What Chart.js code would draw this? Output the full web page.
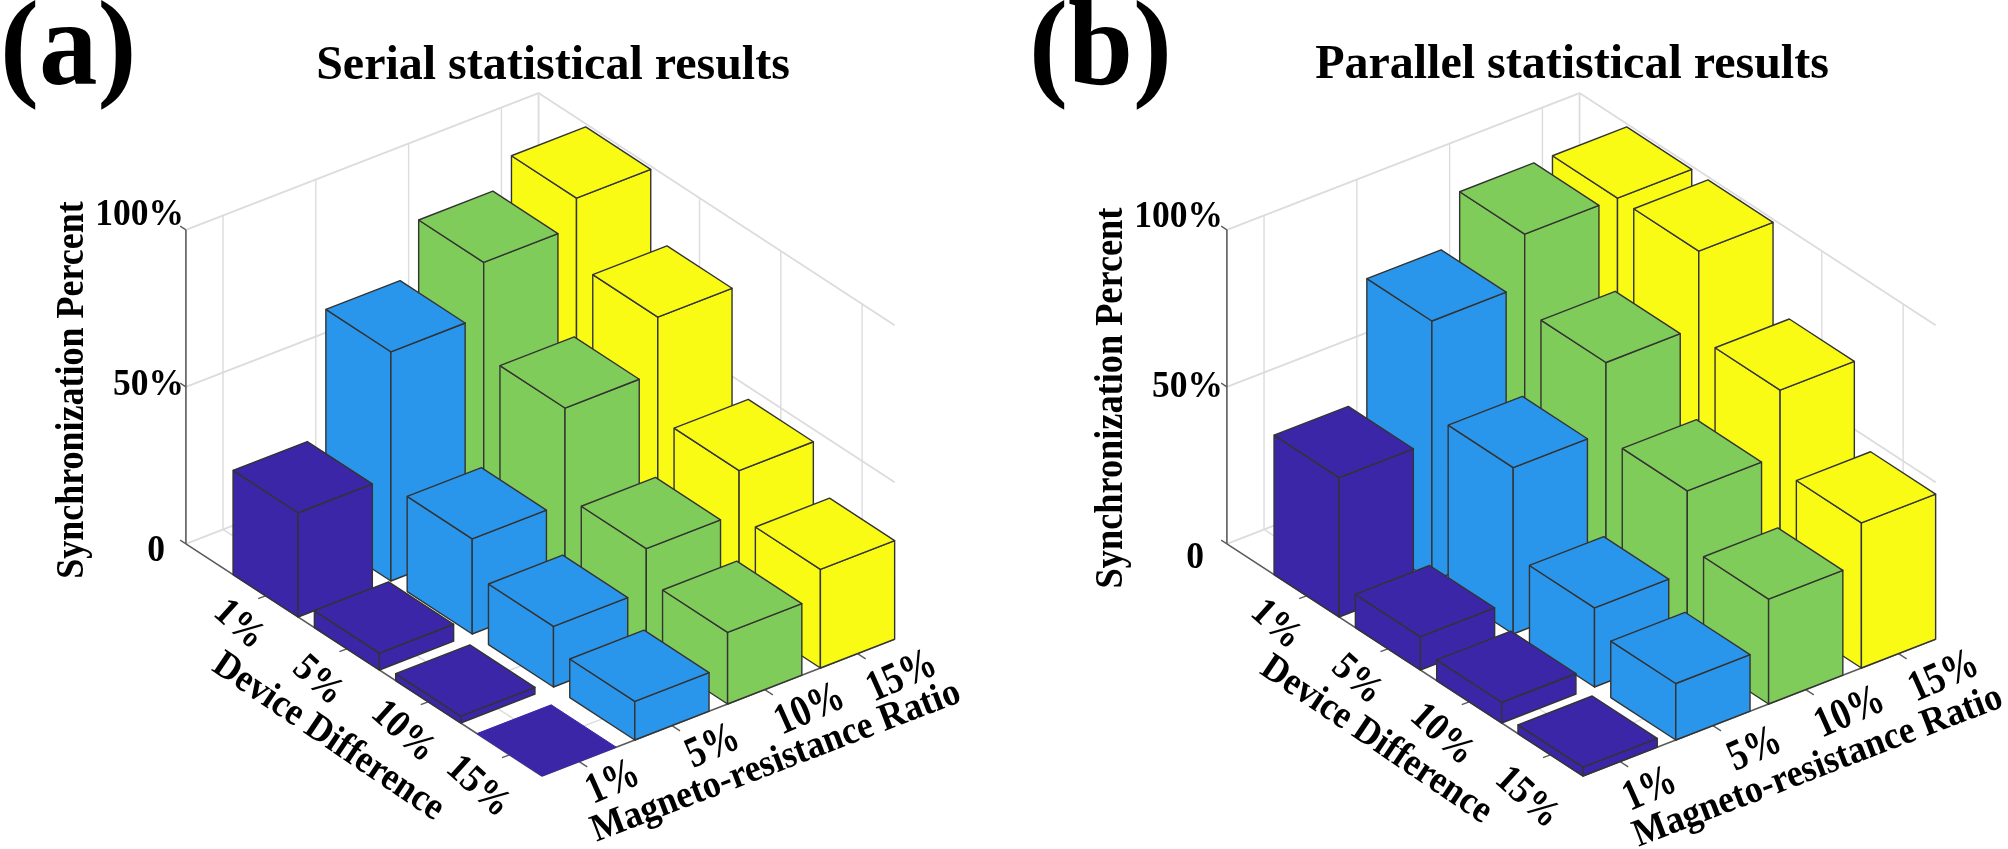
<!DOCTYPE html>
<html><head><meta charset="utf-8">
<style>html,body{margin:0;padding:0;background:#fff;overflow:hidden}
#w{position:relative;width:2008px;height:849px}
canvas{position:absolute;top:0}</style>
<script src="https://cdn.jsdelivr.net/npm/chart.js@4"></script></head>
<body><div id="w"><div style="position:absolute;left:0;top:0;width:1004px;height:849px"><canvas id="a"></canvas></div>
<div style="position:absolute;left:1004px;top:0;width:1004px;height:849px"><canvas id="b"></canvas></div></div>
<script>
// Tick labels
const deviceDifference = ['1%','5%','10%','15%'];
const magnetoRatio = ['1%','5%','10%','15%'];
const percentTicks = [0,50,100];
const percentLabels = ['0','50%','100%'];
// Values: one list per magneto-resistance ratio, in device-difference order (percent)
const serialMR1  = [33.2, 5.4, 2.2, 0];
const serialMR5  = [73, 30.3, 19.3, 12.3];
const serialMR10 = [90, 60.5, 32.6, 22.8];
const serialMR15 = [99, 78, 46, 31.4];
const parallelMR1  = [44.4, 10.6, 6.6, 2.8];
const parallelMR5  = [82.8, 53, 25.2, 18];
const parallelMR10 = [99, 75, 51, 33.4];
const parallelMR15 = [99, 99, 71.6, 46.2];
const seriesColors = ['#3c26a8','#2a96eb','#80cc5a','#f9fb15'];

const FONT='"Liberation Serif"';
// Oblique view: how the three data axes map to the flat x/y scales of the chart
const view={ox:542,oy:776,dx:81.3,dy:53,mx:92.8,my:-36,zy:3.14,barHalf:0.4,dMin:-0.98,dMax:3.4,mMin:-0.4,mMax:3.4};
function P(d,m,z){return {x:view.ox+(d-3.4)*view.dx+(m+0.4)*view.mx,y:view.oy+(d-3.4)*view.dy+(m+0.4)*view.my-z*view.zy};}

function poly(pts,stroke,fill,w){
  const closed=fill?[...pts,pts[0]]:pts;
  return {type:'line',data:closed,parsing:false,borderColor:stroke,borderWidth:w,backgroundColor:fill||'transparent',
    fill:fill?'shape':false,pointRadius:0,tension:0,animation:false,borderJoinStyle:'round',normalized:false};
}
function buildDatasets(rows){
  const ds=[]; const GRID='#dcdcdc',AX='#5a5a5a';
  const {dMin:a,dMax:b,mMin:c,mMax:e}=view;
  percentTicks.forEach(z=>{
    ds.push(poly([P(a,c,z),P(a,e,z),P(b,e,z)],GRID,null,1.8));
  });
  ds.push(poly([P(a,e,0),P(a,e,100)],GRID,null,1.8));
  magnetoRatio.forEach((_,m)=>{
    ds.push(poly([P(a,m,0),P(a,m,100)],GRID,null,1.4));
    ds.push(poly([P(a,m,0),P(b,m,0)],GRID,null,1.4));
  });
  deviceDifference.forEach((_,d)=>{
    ds.push(poly([P(d,e,0),P(d,e,100)],GRID,null,1.4));
    ds.push(poly([P(d,c,0),P(d,e,0)],GRID,null,1.4));
  });
  // axes and ticks
  ds.push(poly([P(a,c,0),P(a,c,100)],AX,null,1.6));
  ds.push(poly([P(a,c,0),P(b,c,0)],AX,null,1.6));
  ds.push(poly([P(b,c,0),P(b,e,0)],AX,null,1.6));
  percentTicks.forEach(z=>ds.push(poly([P(a,c,z),P(a-0.07,c,z)],AX,null,1.3)));
  deviceDifference.forEach((_,d)=>ds.push(poly([P(d,c,0),P(d,c-0.08,0)],AX,null,1.3)));
  magnetoRatio.forEach((_,m)=>ds.push(poly([P(b,m,0),P(b+0.1,m,0)],AX,null,1.3)));
  // bars, back to front
  const h=view.barHalf, EDGE='#333333';
  for(let m=3;m>=0;m--){
    for(let d=0;d<4;d++){
      const v=rows[m][d], col=seriesColors[m];
      const d0=d-h,d1=d+h,m0=m-h,m1=m+h;
      if(v>0){
        ds.push(poly([P(d0,m0,0),P(d1,m0,0),P(d1,m0,v),P(d0,m0,v)],EDGE,col,1.4));
        ds.push(poly([P(d1,m0,0),P(d1,m1,0),P(d1,m1,v),P(d1,m0,v)],EDGE,col,1.4));
        ds.push(poly([P(d0,m0,v),P(d1,m0,v),P(d1,m1,v),P(d0,m1,v)],EDGE,col,1.4));
      }else{
        ds.push(poly([P(d0,m0,v),P(d1,m0,v),P(d1,m1,v),P(d0,m1,v)],col,col,1));
      }
    }
  }
  return ds.reverse(); // Chart.js paints the last dataset first
}
// Label placement per panel, in the chart's own scale units
const layoutA={letter:[0,84],title:[553,79],zTitle:[83,390,36],
  zLab:[[165,561],[184,395],[184,225]],
  dLab:[[239,625],[318,681],[403,732],[478,787]],mLab:[[613,783],[713,747],[810,710],[902,677]],
  dTitle:[328,737],mTitle:[776,762]};
const layoutB={letter:[1029,84],title:[1572,78],zTitle:[1122,398,36.3],
  zLab:[[1204,568],[1223,397],[1223,227]],
  dLab:[[1276,625],[1357,680],[1442,735],[1527,798]],mLab:[[1650,790],[1755,750],[1850,713],[1944,677]],
  dTitle:[1376,740],mTitle:[1818,767]};
function textPlugin(letter,title,L,shift){return {id:'labels',afterDatasetsDraw(ch){
  const g=ch.ctx,X=ch.scales.x,Y=ch.scales.y;
  const t=(s,x,y,size,rot,align,base,sy)=>{g.save();g.translate(X.getPixelForValue(x-shift),Y.getPixelForValue(y));g.rotate(rot*Math.PI/180);
    g.scale(1,sy||1);
    g.font='bold '+size+'px '+FONT;g.fillStyle='#000';g.textAlign=align||'center';g.textBaseline=base||'alphabetic';g.fillText(s,0,0);g.restore();};
  t(letter,L.letter[0],L.letter[1],117,0,'left','alphabetic',1.04);
  t(title,L.title[0],L.title[1],48,0,'center');
  t('Synchronization Percent',L.zTitle[0],L.zTitle[1],L.zTitle[2],-90,'center','alphabetic',1.12);
  percentLabels.forEach((s,i)=>t(s,L.zLab[i][0],L.zLab[i][1],35.5,0,'right','alphabetic',1.06));
  deviceDifference.forEach((s,i)=>t(s,L.dLab[i][0],L.dLab[i][1],36,42,'center','middle',1.1));
  magnetoRatio.forEach((s,i)=>t(s,L.mLab[i][0],L.mLab[i][1],36,-24,'center','middle',1.22));
  t('Device Difference',L.dTitle[0],L.dTitle[1],36,34,'center','middle',1.08);
  t('Magneto-resistance Ratio',L.mTitle[0],L.mTitle[1],36,-21,'center','middle',1.08);
}};}
function make(id,rows,letter,title,L,canvasLeft,panelDx){
  const ds=buildDatasets(rows);
  const off=panelDx-canvasLeft;
  ds.forEach(s=>{s.data=s.data.map(p=>({x:p.x+off,y:p.y}));});
  new Chart(document.getElementById(id),{type:'line',data:{datasets:ds},plugins:[textPlugin(letter,title,L,canvasLeft)],options:{
    responsive:false,animation:false,devicePixelRatio:1,layout:{padding:0},
    plugins:{legend:{display:false},tooltip:{enabled:false}},
    scales:{x:{type:'linear',min:0,max:1004,display:false},y:{type:'linear',min:0,max:849,reverse:true,display:false}}
  }});
}
for(const id of ['a','b']){const c=document.getElementById(id);c.width=1004;c.height=849;c.style.width='1004px';c.style.height='849px';}
make('a',[serialMR1,serialMR5,serialMR10,serialMR15],'(a)','Serial statistical results',layoutA,0,0);
make('b',[parallelMR1,parallelMR5,parallelMR10,parallelMR15],'(b)','Parallel statistical results',layoutB,1004,1041);
</script></body></html>
